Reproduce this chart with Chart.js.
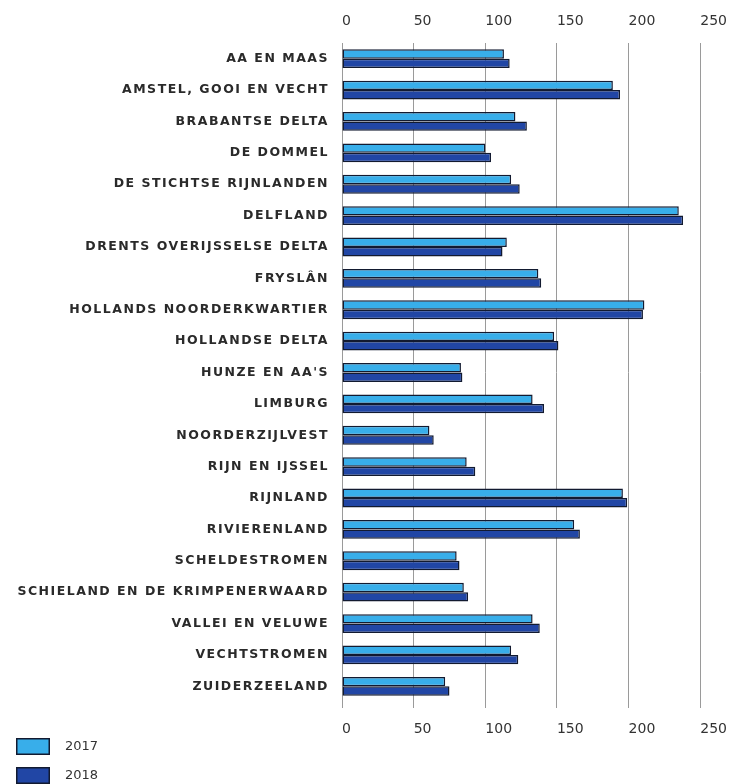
<!DOCTYPE html>
<html>
<head>
<meta charset="utf-8">
<script src="https://cdn.jsdelivr.net/npm/chart.js@4"></script>
<style>
  html, body { margin: 0; padding: 0; background: #fff; }
  #wrap { width: 740px; height: 784px; }
</style>
</head>
<body>
<div id="wrap"><canvas id="chart"></canvas></div>
<script>
const categories = [
  'AA EN MAAS', 'AMSTEL, GOOI EN VECHT', 'BRABANTSE DELTA', 'DE DOMMEL',
  'DE STICHTSE RIJNLANDEN', 'DELFLAND', 'DRENTS OVERIJSSELSE DELTA', 'FRYSLÂN',
  'HOLLANDS NOORDERKWARTIER', 'HOLLANDSE DELTA', "HUNZE EN AA'S", 'LIMBURG',
  'NOORDERZIJLVEST', 'RIJN EN IJSSEL', 'RIJNLAND', 'RIVIERENLAND',
  'SCHELDESTROMEN', 'SCHIELAND EN DE KRIMPENERWAARD', 'VALLEI EN VELUWE',
  'VECHTSTROMEN', 'ZUIDERZEELAND'
];
const values2017 = [113, 189, 121, 100, 118, 235, 115, 137, 211, 148, 83, 133, 61, 87, 196, 162, 80, 85, 133, 118, 72];
const values2018 = [117, 194, 129, 104, 124, 238, 112, 139, 210, 151, 84, 141, 64, 93, 199, 166, 82, 88, 138, 123, 75];
const seriesLabels = ['2017', '2018'];
const xTicks = [0, 50, 100, 150, 200, 250];

const colorLight = '#38aeea';
const colorDark = '#2146a5';
const borderCol = '#121a30';

// legend under the chart, stacked like the original
const stackedLegend = {
  id: 'stackedLegend',
  afterDraw(chart) {
    const ctx = chart.ctx;
    ctx.save();
    chart.data.datasets.forEach((ds, i) => {
      const y = 738 + i * 29;
      ctx.fillStyle = ds.backgroundColor;
      ctx.fillRect(16, y, 34, 17);
      ctx.strokeStyle = borderCol;
      ctx.lineWidth = 1.5;
      ctx.strokeRect(16.75, y + 0.75, 32.5, 15.5);
      ctx.fillStyle = '#333';
      ctx.font = '13px "DejaVu Sans"';
      ctx.textBaseline = 'middle';
      ctx.fillText(ds.label, 65, y + 9);
    });
    ctx.restore();
  }
};

// wider letter spacing only for the category names
function spacedLabels(scale) {
  scale.width = 342;
  if (scale._spaced) return;
  const orig = scale.drawLabels.bind(scale);
  scale.drawLabels = (area) => {
    scale.ctx.save();
    scale.ctx.letterSpacing = '1.5px';
    orig(area);
    scale.ctx.restore();
  };
  scale._spaced = true;
}

const tickFont = { family: 'DejaVu Sans', size: 14 };

new Chart(document.getElementById('chart'), {
  type: 'bar',
  data: {
    labels: categories,
    datasets: [
      {
        label: seriesLabels[0],
        data: values2017,
        backgroundColor: colorLight,
        borderColor: borderCol,
        borderWidth: 1.5,
        borderSkipped: false,
      },
      {
        label: seriesLabels[1],
        data: values2018,
        backgroundColor: colorDark,
        borderColor: borderCol,
        borderWidth: 1.5,
        borderSkipped: false,
      },
    ],
  },
  options: {
    indexAxis: 'y',
    responsive: true,
    maintainAspectRatio: false,
    animation: false,
    layout: { padding: { left: 0, right: 37, top: 0, bottom: 42 } },
    datasets: { bar: { categoryPercentage: 0.6, barPercentage: 1.0 } },
    plugins: {
      legend: { display: false },
      tooltip: { enabled: false },
    },
    scales: {
      x: {
        type: 'linear',
        position: 'bottom',
        min: 0,
        max: 250,
        afterBuildTicks: (scale) => { scale.ticks = xTicks.map(v => ({ value: v })); },
        afterFit: (scale) => { scale.height = 40; },
        border: { display: false },
        grid: { color: '#9a9a9a', lineWidth: 1, drawTicks: true, tickLength: 6 },
        ticks: { align: 'start', padding: 13, color: '#333', font: tickFont },
      },
      xTop: {
        type: 'linear',
        axis: 'x',
        position: 'top',
        min: 0,
        max: 250,
        afterBuildTicks: (scale) => { scale.ticks = xTicks.map(v => ({ value: v })); },
        afterFit: (scale) => { scale.height = 43; },
        border: { display: false },
        grid: { display: false, drawTicks: false },
        ticks: { align: 'start', padding: 13, color: '#333', font: tickFont },
      },
      y: {
        afterFit: spacedLabels,
        border: { display: false },
        grid: { display: false },
        ticks: {
          padding: 5,
          color: '#2a2a2a',
          font: { family: 'DejaVu Sans', size: 12.5, weight: 'bold' },
        },
      },
    },
  },
  plugins: [stackedLegend],
});
</script>
</body>
</html>
